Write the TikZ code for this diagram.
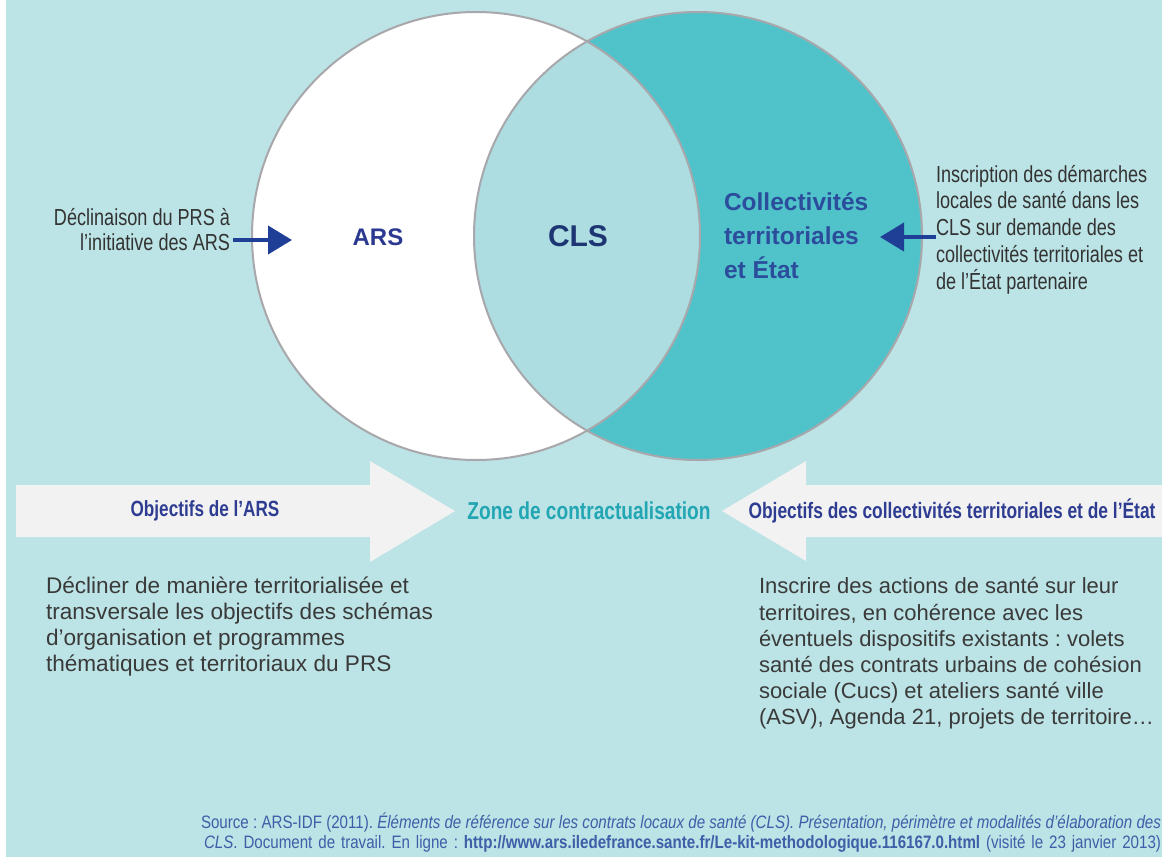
\documentclass[tikz,border=0pt]{standalone}
\usepackage{fontspec}
\setmainfont{Liberation Sans}
\newfontfamily\cond{Liberation Sans}[FakeStretch=0.78]
\newfontfamily\condsrc{Liberation Sans}[FakeStretch=0.84]
\usetikzlibrary{arrows.meta}
\definecolor{bgc}{HTML}{BCE3E5}
\definecolor{lensc}{HTML}{ADDDE1}
\definecolor{tealc}{HTML}{50C3CA}
\definecolor{outc}{HTML}{A8A8AC}
\definecolor{arrc}{HTML}{1E3F95}
\definecolor{arsc}{HTML}{2B3990}
\definecolor{clsc}{HTML}{1D3572}
\definecolor{colc}{HTML}{2C4C9C}
\definecolor{annc}{HTML}{333333}
\definecolor{objc}{HTML}{2E3D91}
\definecolor{zonec}{HTML}{22A6B3}
\definecolor{bodyc}{HTML}{3A3A3A}
\definecolor{srcc}{HTML}{3D5FA8}
\definecolor{blockc}{HTML}{F2F2F2}
\frenchspacing
\tikzset{
  txt/.style={inner sep=0pt, outer sep=0pt},
  annot/.style={txt, text=annc, font=\cond\fontsize{23.2}{25}\selectfont},
  objtxt/.style={txt, text=objc, font=\cond\bfseries\fontsize{22}{25}\selectfont},
  bodytxt/.style={txt, text=bodyc, align=left, font=\fontsize{22}{26.2}\selectfont},
  smallarrow/.style={draw=arrc, line width=4pt, -{Triangle[length=24pt,width=28pt]}},
  blockarrow/.style={fill=blockc},
  ring/.style={draw=outc, line width=2pt}
}
\begin{document}
\begin{tikzpicture}[x=1pt,y=-1pt]
\useasboundingbox (0,0) rectangle (1162,857);
\fill[white] (0,0) rectangle (6,857);
\fill[bgc] (6,0) rectangle (1162,857);
% circles
\fill[white] (476,236) circle[radius=224pt];
\fill[tealc] (698,236) circle[radius=224pt];
\begin{scope}
  \clip (476,236) circle[radius=224pt];
  \fill[lensc] (698,236) circle[radius=224pt];
\end{scope}
\draw[ring] (476,236) circle[radius=224pt];
\draw[ring] (698,236) circle[radius=224pt];
% circle labels
\node[txt, text=arsc, font=\bfseries\fontsize{24}{28}\selectfont] (ars) at (378,237) {ARS};
\node[txt, text=clsc, font=\bfseries\fontsize{30}{32}\selectfont] (cls) at (578,236) {CLS};
\node[txt, text=colc, anchor=west, align=left, font=\bfseries\fontsize{24.5}{34}\selectfont] (col) at (724,236) {Collectivités\\territoriales\\et État};
% annotations
\node[annot, anchor=east, align=right] (annL) at (230,229.5) {Déclinaison du PRS à\\l’initiative des ARS};
\coordinate (tipL) at (292,240);
\draw[smallarrow] ([xshift=3pt]annL.east |- tipL) -- (tipL);
\node[annot, anchor=west, align=left, font=\cond\fontsize{23.2}{26.7}\selectfont] (annR) at (936,229.5) {Inscription des démarches\\locales de santé dans les\\CLS sur demande des\\collectivités territoriales et\\de l’État partenaire};
\coordinate (tipR) at (880,237);
\draw[smallarrow] (annR.west |- tipR) -- (tipR);
% block arrows
\fill[blockarrow] (16,485) -- (370,485) -- (370,461) -- (455,511) -- (370,562) -- (370,537) -- (16,537) -- cycle;
\fill[blockarrow] (1162,485) -- (806,485) -- (806,461) -- (722,511) -- (806,561) -- (806,537) -- (1162,537) -- cycle;
\node[objtxt] (objL) at (205,511) {Objectifs de l’ARS};
\node[txt, text=zonec, font=\cond\bfseries\fontsize{24.5}{28}\selectfont] (zone) at (589,511) {Zone de contractualisation};
\node[objtxt, font=\cond\bfseries\fontsize{22.3}{25}\selectfont] (objR) at (952,511) {Objectifs des collectivités territoriales et de l’État};
% body texts
\node[bodytxt, anchor=west, font=\fontsize{22.6}{26.3}\selectfont] (bodyL) at (46,626.5) {Décliner de manière territorialisée et\\transversale les objectifs des schémas\\d’organisation et programmes\\thématiques et territoriaux du PRS};
\node[bodytxt, anchor=west] (bodyR) at (759,653.5) {Inscrire des actions de santé sur leur\\territoires, en cohérence avec les\\éventuels dispositifs existants : volets\\santé des contrats urbains de cohésion\\sociale (Cucs) et ateliers santé ville\\(ASV), Agenda 21, projets de territoire…};
% source
\node[txt, anchor=east, align=right, text=srcc, font=\condsrc\fontsize{18}{20}\selectfont] (src) at (1161,833) {\makebox[960pt][s]{Source : ARS-IDF (2011). \textit{Éléments de référence sur les contrats locaux de santé (CLS). Présentation, périmètre et modalités d’élaboration des}}\\\makebox[957pt][s]{\textit{CLS}. Document de travail. En ligne : \textbf{http://www.ars.iledefrance.sante.fr/Le-kit-methodologique.116167.0.html} (visité le 23 janvier 2013)}};
\end{tikzpicture}
\end{document}
